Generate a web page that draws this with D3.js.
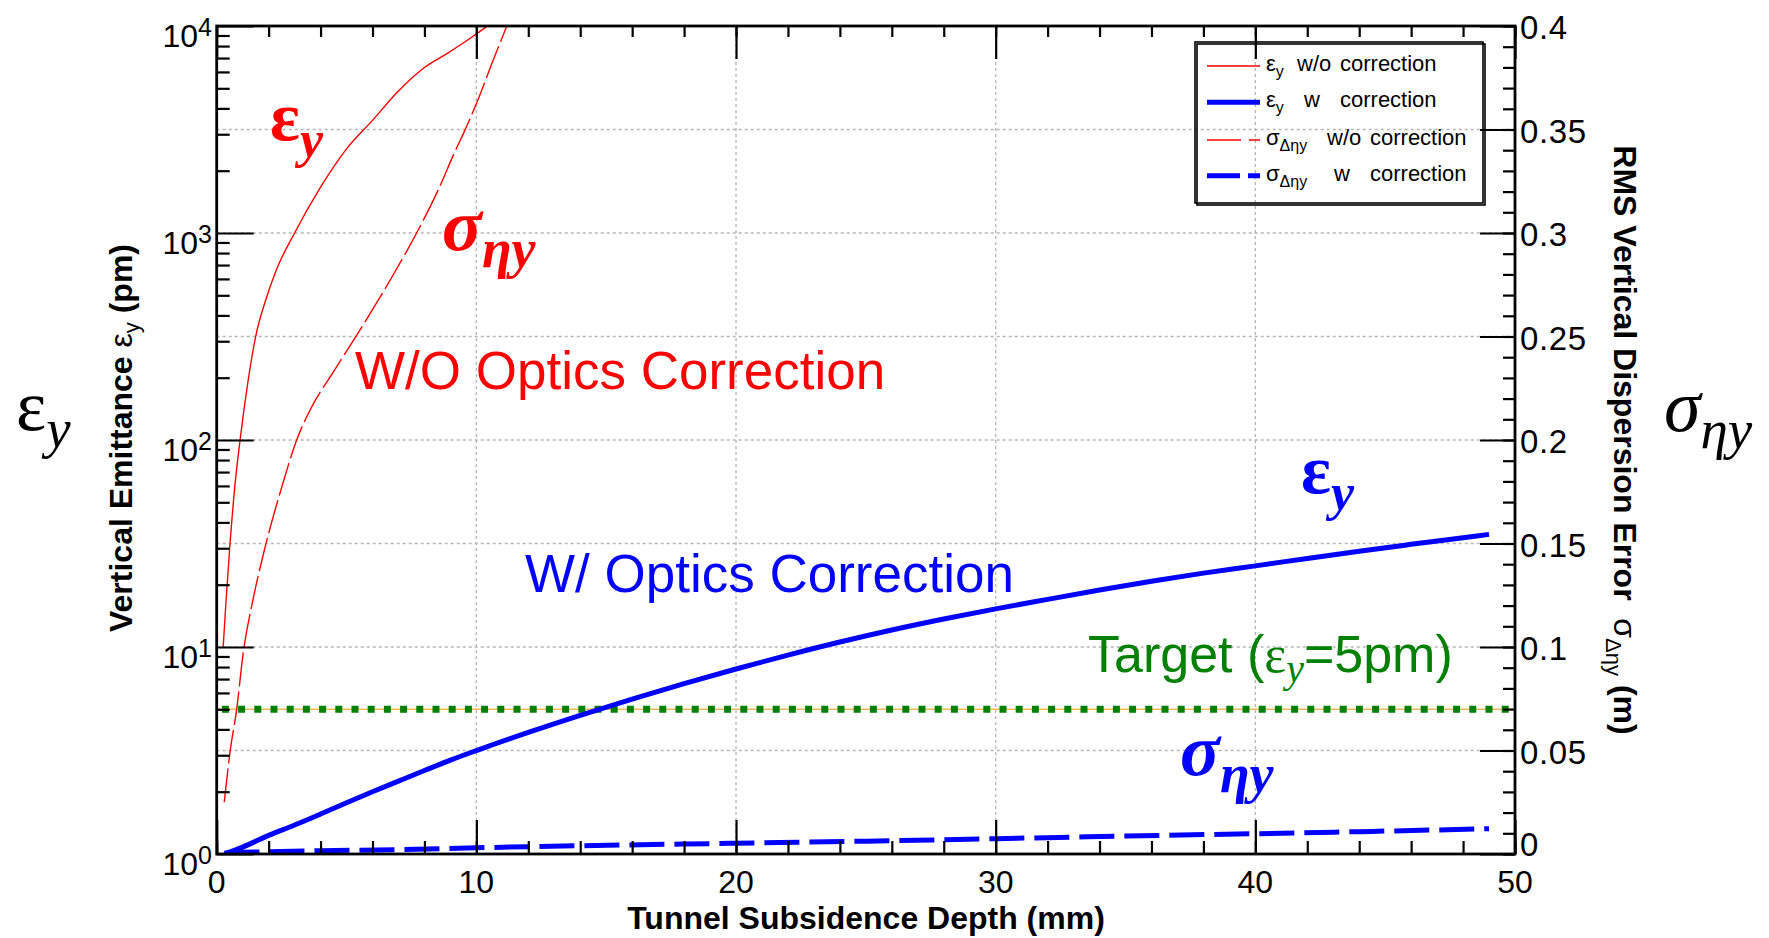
<!DOCTYPE html>
<html>
<head>
<meta charset="utf-8">
<script src="https://cdn.jsdelivr.net/npm/d3@7"></script>
<style>
  body { margin: 0; background: #fff; }
  svg { display: block; }
  text { font-family: "Liberation Sans", Arial, Helvetica, sans-serif; }
  .serif { font-family: "Liberation Serif", "Times New Roman", serif; }
</style>
</head>
<body>
<svg id="chart" width="1769" height="938"></svg>
<script>
// ---- data ---------------------------------------------------------------
// Vertical emittance without optics correction (pm) vs tunnel subsidence depth (mm)
const epsNoCorrDepth = [0.25, 0.35, 0.5, 0.7, 0.9, 1.2, 1.5, 1.9, 2.3, 3.0, 4.0, 5.0, 6.0, 7.0, 8.0, 8.9, 9.75, 10.05, 10.35, 10.6];
const epsNoCorrValue = [10, 16, 30, 60, 100, 190, 316, 480, 665, 1000, 1665, 2550, 3500, 4850, 6300, 7400, 8700, 9250, 9850, 10500];

// Vertical emittance with optics correction (pm)
const epsCorrDepth = [0.3, 1, 2, 3, 4, 5, 6, 7, 8, 9, 10, 12, 14, 16, 18, 20, 22, 24, 26, 28, 30, 32, 34, 36, 38, 40, 42, 44, 46, 48, 49];
const epsCorrValue = [1.0, 1.08, 1.23, 1.38, 1.56, 1.77, 2.0, 2.25, 2.53, 2.84, 3.16, 3.87, 4.68, 5.6, 6.65, 7.83, 9.14, 10.57, 12.08, 13.65, 15.28, 16.98, 18.84, 20.8, 22.75, 24.66, 26.79, 29.04, 31.33, 33.73, 35.0];

// RMS vertical dispersion error without optics correction (m)
const dispNoCorrDepth = [0.29, 0.51, 0.77, 1.02, 1.4, 1.86, 2.5, 3.08, 3.66, 4.5, 5.26, 6.0, 6.9, 7.7, 8.5, 9.2, 9.5, 10.05, 10.6, 11.17, 11.5];
const dispNoCorrValue = [0.025, 0.049, 0.070, 0.097, 0.123, 0.148, 0.177, 0.200, 0.216, 0.233, 0.248, 0.263, 0.282, 0.300, 0.320, 0.340, 0.348, 0.364, 0.382, 0.400, 0.411];

// RMS vertical dispersion error with optics correction (m)
const dispCorrDepth = [0.3, 1, 2, 4, 7, 10, 14, 20, 25, 30, 35, 40, 44, 49];
const dispCorrValue = [0.0005, 0.0008, 0.0011, 0.0016, 0.0021, 0.0030, 0.0040, 0.0052, 0.0062, 0.0074, 0.0087, 0.0098, 0.0108, 0.0122];

// Design target emittance (pm)
const targetDepth = [0, 50];
const targetEmittance = [5, 5];

// ---- axes ticks ------------------------------------------------------------
const xMajorTicks = [0, 10, 20, 30, 40, 50];
const xMinorTicks = d3.range(0, 50.01, 2);
const xGridTicks = [10, 20, 30, 40];
const leftMajorTicks = [1, 10, 100, 1000, 10000];
const leftTickExponents = ["0", "1", "2", "3", "4"];
const rightMajorTicks = [0, 0.05, 0.1, 0.15, 0.2, 0.25, 0.3, 0.35, 0.4];
const rightTickLabels = ["0", "0.05", "0.1", "0.15", "0.2", "0.25", "0.3", "0.35", "0.4"];
const rightMinorTicks = d3.range(0, 0.4001, 0.01);

// ---- legend entries --------------------------------------------------------
const legendSymbols = ["ε", "ε", "σ", "σ"];
const legendSubscripts = ["y", "y", "Δηy", "Δηy"];
const legendModes = ["w/o", "w", "w/o", "w"];

// ---- layout ----------------------------------------------------------------
const svg = d3.select("#chart");
const P = { left: 216.7, right: 1515, top: 26, bottom: 854 };

const x = d3.scaleLinear().domain([0, 50]).range([P.left, P.right]);
const yL = d3.scaleLog().domain([1, 1e4]).range([P.bottom, P.top]);
const yR = d3.scaleLinear().domain([0, 0.4]).range([P.bottom, P.top]);

const RED = "#ff0000", BLUE = "#0000ff", GREEN = "#008000";

svg.append("defs").append("clipPath").attr("id", "plotClip")
  .append("rect")
  .attr("x", P.left).attr("y", P.top)
  .attr("width", P.right - P.left).attr("height", P.bottom - P.top);

// grid
const grid = svg.append("g").attr("stroke", "#b5b5b5").attr("stroke-width", 1.3)
  .attr("stroke-dasharray", "3,3");
grid.selectAll("line.v").data(xGridTicks).join("line")
  .attr("x1", d => x(d)).attr("x2", d => x(d))
  .attr("y1", P.top).attr("y2", P.bottom);
grid.selectAll("line.h").data(rightMajorTicks.slice(1, -1)).join("line")
  .attr("y1", d => yR(d)).attr("y2", d => yR(d))
  .attr("x1", P.left).attr("x2", P.right);

// data curves
const plotG = svg.append("g").attr("clip-path", "url(#plotClip)");
const zip = (a, b) => a.map((v, i) => [v, b[i]]);
const lineLeft = d3.line().x(d => x(d[0])).y(d => yL(d[1])).curve(d3.curveMonotoneX);
const lineRight = d3.line().x(d => x(d[0])).y(d => yR(d[1])).curve(d3.curveMonotoneX);

// target line: thin orange guide with green square dots
plotG.append("path").attr("d", lineLeft(zip(targetDepth, targetEmittance)))
  .attr("fill", "none").attr("stroke", "#f4bb55").attr("stroke-width", 1.5);
plotG.append("path").attr("d", lineLeft(zip([0.2, 50], targetEmittance)))
  .attr("fill", "none").attr("stroke", GREEN).attr("stroke-width", 7)
  .attr("stroke-dasharray", "7,9.2");

plotG.append("path").attr("d", lineLeft(zip(epsNoCorrDepth, epsNoCorrValue)))
  .attr("fill", "none").attr("stroke", RED).attr("stroke-width", 1.4);
plotG.append("path").attr("d", lineRight(zip(dispNoCorrDepth, dispNoCorrValue)))
  .attr("fill", "none").attr("stroke", RED).attr("stroke-width", 1.4)
  .attr("stroke-dasharray", "34,5");
plotG.append("path").attr("d", lineLeft(zip(epsCorrDepth, epsCorrValue)))
  .attr("fill", "none").attr("stroke", BLUE).attr("stroke-width", 5);
plotG.append("path").attr("d", lineRight(zip(dispCorrDepth, dispCorrValue)))
  .attr("fill", "none").attr("stroke", BLUE).attr("stroke-width", 5)
  .attr("stroke-dasharray", "35,10");

// axes (ticks pointing into the frame)
function styleAxis(g) {
  g.select(".domain").remove();
  g.selectAll(".tick line").attr("stroke", "#000").attr("stroke-width", 2.2);
  g.selectAll(".tick text").remove();
}
svg.append("g").attr("transform", `translate(0,${P.bottom})`)
  .call(d3.axisTop(x).tickValues(xMinorTicks).tickSize(13)).call(styleAxis);
svg.append("g").attr("transform", `translate(0,${P.bottom})`)
  .call(d3.axisTop(x).tickValues(xMajorTicks).tickSize(34)).call(styleAxis);
svg.append("g").attr("transform", `translate(0,${P.top})`)
  .call(d3.axisBottom(x).tickValues(xMinorTicks).tickSize(11)).call(styleAxis);
svg.append("g").attr("transform", `translate(0,${P.top})`)
  .call(d3.axisBottom(x).tickValues(xMajorTicks).tickSize(33)).call(styleAxis);

const leftMinor = [];
leftMajorTicks.slice(0, -1).forEach(d => { for (let k = 2; k <= 9; k++) leftMinor.push(d * k); });
svg.append("g").attr("transform", `translate(${P.left},0)`)
  .call(d3.axisRight(yL).tickValues(leftMinor).tickSize(13)).call(styleAxis);
svg.append("g").attr("transform", `translate(${P.left},0)`)
  .call(d3.axisRight(yL).tickValues(leftMajorTicks).tickSize(37)).call(styleAxis);
svg.append("g").attr("transform", `translate(${P.right},0)`)
  .call(d3.axisLeft(yR).tickValues(rightMinorTicks).tickSize(12)).call(styleAxis);
svg.append("g").attr("transform", `translate(${P.right},0)`)
  .call(d3.axisLeft(yR).tickValues(rightMajorTicks).tickSize(35)).call(styleAxis);

// frame
svg.append("rect").attr("x", P.left).attr("y", P.top)
  .attr("width", P.right - P.left).attr("height", P.bottom - P.top)
  .attr("fill", "none").attr("stroke", "#000").attr("stroke-width", 2.8);

// tick labels
svg.append("g").selectAll("text").data(xMajorTicks).join("text")
  .attr("x", d => x(d)).attr("y", 893).attr("text-anchor", "middle")
  .attr("font-size", 32).text(d => d);

const leftLab = svg.append("g").selectAll("text").data(leftMajorTicks).join("text")
  .attr("x", 212).attr("y", d => yL(d) + 21).attr("text-anchor", "end");
leftLab.append("tspan").attr("font-size", 32).text("10");
leftLab.append("tspan").attr("font-size", 25).attr("dy", -11)
  .text((d, i) => leftTickExponents[i]);

// right labels; the zero label sits a little higher to clear the "50" below it
svg.append("g").selectAll("text").data(rightMajorTicks).join("text")
  .attr("x", 1520).attr("y", d => yR(d) + (d === 0 ? 2 : 13)).attr("font-size", 33)
  .attr("letter-spacing", 0.6)
  .text((d, i) => rightTickLabels[i]);

// axis titles
svg.append("text").attr("x", 866).attr("y", 929).attr("text-anchor", "middle")
  .attr("font-size", 32).attr("font-weight", "bold")
  .text("Tunnel Subsidence Depth (mm)");

const leftTitle = svg.append("text").attr("transform", "translate(132,438) rotate(-90)")
  .attr("text-anchor", "middle").attr("font-size", 32);
leftTitle.append("tspan").attr("font-weight", "bold").text("Vertical Emittance ");
leftTitle.append("tspan").text("ε");
leftTitle.append("tspan").attr("font-size", 22).attr("dy", 7).text("y");
leftTitle.append("tspan").attr("font-weight", "bold").attr("dy", -7).text(" (pm)");

const rightTitle = svg.append("text").attr("transform", "translate(1614,440) rotate(90)")
  .attr("text-anchor", "middle").attr("font-size", 32).style("white-space", "pre");
rightTitle.append("tspan").attr("font-weight", "bold").text("RMS Vertical Dispersion Error  ");
rightTitle.append("tspan").text("σ");
rightTitle.append("tspan").attr("font-size", 22).attr("dy", 8).text("Δηy");
rightTitle.append("tspan").attr("font-weight", "bold").attr("dy", -8).text(" (m)");

// symbol annotations (serif, with subscripts)
function symbolLabel(xPos, yPos, main, sub, color, size, subSize, subDy, mainStyle, weight) {
  const t = svg.append("text").attr("class", "serif").attr("x", xPos).attr("y", yPos)
    .attr("fill", color).attr("font-weight", weight);
  t.append("tspan").attr("font-size", size).attr("font-style", mainStyle).text(main);
  t.append("tspan").attr("font-size", subSize).attr("font-style", "italic")
    .attr("dy", subDy).text(sub);
  return t;
}
symbolLabel(270, 140, "ε", "y", RED, 70, 52, 17, "normal", "bold");
symbolLabel(442, 250, "σ", "ηy", RED, 74, 54, 17, "italic", "bold");
symbolLabel(1301, 493, "ε", "y", BLUE, 70, 52, 17, "normal", "bold");
symbolLabel(1180, 775, "σ", "ηy", BLUE, 74, 54, 17, "italic", "bold");
symbolLabel(16, 430, "ε", "y", "#000", 72, 55, 17, "normal", "normal");
symbolLabel(1664, 431, "σ", "ηy", "#000", 74, 55, 17, "italic", "normal");

// text annotations
svg.append("text").attr("x", 355).attr("y", 389).attr("font-size", 53)
  .attr("fill", RED).text("W/O Optics Correction");
svg.append("text").attr("x", 525).attr("y", 592).attr("font-size", 53)
  .attr("fill", BLUE).text("W/ Optics Correction");

const target = svg.append("text").attr("x", 1088).attr("y", 672)
  .attr("font-size", 52).attr("fill", GREEN);
target.append("tspan").text("Target (");
target.append("tspan").attr("class", "serif").text("ε");
target.append("tspan").attr("class", "serif").attr("font-style", "italic")
  .attr("font-size", 40).attr("dy", 10).text("y");
target.append("tspan").attr("dy", -10).text("=5pm)");

// legend
const L = { x: 1195, y: 42, w: 288, h: 161 };
const lg = svg.append("g");
lg.append("rect").attr("x", L.x + 2).attr("y", L.y + 2).attr("width", L.w).attr("height", L.h)
  .attr("fill", "none").attr("stroke", "#000").attr("stroke-width", 1.6);
lg.append("rect").attr("x", L.x).attr("y", L.y).attr("width", L.w).attr("height", L.h)
  .attr("fill", "none").attr("stroke", "#000").attr("stroke-width", 1.6);

const legendStyles = [
  { color: RED, width: 1.4, dash: null },
  { color: BLUE, width: 5, dash: null },
  { color: RED, width: 1.4, dash: "34,8" },
  { color: BLUE, width: 5, dash: "33,8" }
];
const rowY = [66, 102.3, 140, 175.7];
legendSymbols.forEach((sym, i) => {
  const s = legendStyles[i];
  lg.append("line").attr("x1", 1207).attr("x2", 1260)
    .attr("y1", rowY[i]).attr("y2", rowY[i])
    .attr("stroke", s.color).attr("stroke-width", s.width)
    .attr("stroke-dasharray", s.dash);
  const base = legendSubscripts[i] === "y" ? 1297 : 1327;
  const t = lg.append("text").attr("x", 1266).attr("y", rowY[i] + 5).attr("font-size", 22);
  t.append("tspan").text(sym);
  t.append("tspan").attr("font-size", 16).attr("dy", 6).text(legendSubscripts[i]);
  t.append("tspan").attr("dy", -6).attr("x", legendModes[i] === "w" ? base + 7 : base)
    .text(legendModes[i]);
  t.append("tspan").attr("x", base + 43).text("correction");
});
</script>
</body>
</html>
